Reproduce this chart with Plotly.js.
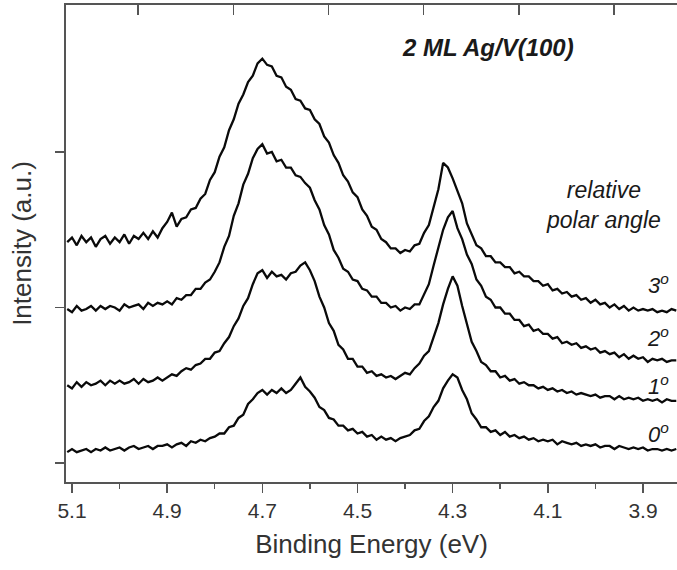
<!DOCTYPE html>
<html>
<head>
<meta charset="utf-8">
<script src="https://cdn.plot.ly/plotly-3.0.1.min.js"></script>
<style>html,body{margin:0;padding:0;background:#fff;}#chart{width:677px;height:570px;}</style>
</head>
<body>
<div id="chart"></div>
<script>
// Binding energy (eV)
var energy = [
5.11,5.10,5.09,5.08,5.07,5.06,5.05,5.04,5.03,5.02,
5.01,5.00,4.99,4.98,4.97,4.96,4.95,4.94,4.93,4.92,
4.91,4.90,4.89,4.88,4.87,4.86,4.85,4.84,4.83,4.82,
4.81,4.80,4.79,4.78,4.77,4.76,4.75,4.74,4.73,4.72,
4.71,4.70,4.69,4.68,4.67,4.66,4.65,4.64,4.63,4.62,
4.61,4.60,4.59,4.58,4.57,4.56,4.55,4.54,4.53,4.52,
4.51,4.50,4.49,4.48,4.47,4.46,4.45,4.44,4.43,4.42,
4.41,4.40,4.39,4.38,4.37,4.36,4.35,4.34,4.33,4.32,
4.31,4.30,4.29,4.28,4.27,4.26,4.25,4.24,4.23,4.22,
4.21,4.20,4.19,4.18,4.17,4.16,4.15,4.14,4.13,4.12,
4.11,4.10,4.09,4.08,4.07,4.06,4.05,4.04,4.03,4.02,
4.01,4.00,3.99,3.98,3.97,3.96,3.95,3.94,3.93,3.92,
3.91,3.90,3.89,3.88,3.87,3.86,3.85,3.84,3.83];

// Intensity (a.u., offset spectra) for each relative polar angle
var angle0 = [
0.07,0.09,0.07,0.08,0.09,0.07,0.09,0.08,0.10,0.08,
0.09,0.10,0.08,0.10,0.11,0.09,0.10,0.11,0.09,0.11,
0.11,0.12,0.10,0.12,0.13,0.11,0.14,0.13,0.15,0.14,
0.16,0.17,0.19,0.19,0.23,0.24,0.29,0.31,0.38,0.41,
0.45,0.47,0.44,0.47,0.45,0.48,0.45,0.47,0.51,0.55,
0.49,0.46,0.42,0.36,0.34,0.29,0.28,0.24,0.24,0.21,
0.22,0.19,0.20,0.17,0.18,0.15,0.17,0.15,0.16,0.14,
0.16,0.17,0.18,0.21,0.22,0.27,0.30,0.36,0.40,0.48,
0.53,0.57,0.55,0.47,0.41,0.32,0.28,0.23,0.23,0.20,
0.21,0.18,0.20,0.17,0.18,0.16,0.17,0.15,0.16,0.14,
0.15,0.14,0.15,0.12,0.14,0.13,0.12,0.13,0.11,0.12,
0.11,0.12,0.10,0.11,0.11,0.09,0.11,0.10,0.09,0.10,
0.09,0.10,0.08,0.09,0.09,0.08,0.09,0.08,0.09];

var angle1 = [
0.50,0.48,0.52,0.49,0.52,0.50,0.51,0.53,0.50,0.53,
0.51,0.53,0.51,0.52,0.54,0.51,0.54,0.52,0.53,0.55,
0.53,0.55,0.57,0.56,0.59,0.61,0.60,0.63,0.64,0.67,
0.67,0.71,0.72,0.77,0.81,0.88,0.93,1.01,1.06,1.15,
1.22,1.24,1.19,1.23,1.20,1.21,1.18,1.22,1.23,1.27,
1.29,1.24,1.17,1.07,1.00,0.90,0.85,0.76,0.73,0.67,
0.67,0.62,0.62,0.58,0.59,0.56,0.57,0.55,0.56,0.54,
0.56,0.58,0.57,0.61,0.64,0.69,0.72,0.81,0.90,1.02,
1.12,1.20,1.14,1.01,0.89,0.78,0.72,0.65,0.63,0.59,
0.59,0.55,0.56,0.53,0.54,0.51,0.52,0.50,0.50,0.48,
0.49,0.47,0.48,0.46,0.47,0.45,0.46,0.44,0.45,0.44,
0.43,0.44,0.42,0.43,0.43,0.41,0.43,0.41,0.42,0.41,
0.42,0.40,0.41,0.40,0.41,0.39,0.41,0.40,0.40];

var angle2 = [
0.99,0.97,1.01,0.98,0.99,1.01,0.98,1.01,0.99,1.01,
1.00,0.98,1.02,1.00,1.01,1.02,0.99,1.03,1.01,1.03,
1.02,1.04,1.02,1.06,1.05,1.08,1.08,1.12,1.12,1.16,
1.18,1.23,1.29,1.39,1.46,1.59,1.67,1.79,1.86,1.96,
2.02,2.05,1.99,2.00,1.94,1.95,1.90,1.90,1.85,1.84,
1.80,1.77,1.69,1.63,1.53,1.47,1.37,1.32,1.25,1.23,
1.18,1.17,1.12,1.11,1.07,1.07,1.03,1.03,1.00,1.01,
0.98,1.00,0.99,1.02,1.02,1.09,1.15,1.27,1.38,1.50,
1.58,1.62,1.51,1.44,1.34,1.28,1.18,1.14,1.07,1.05,
1.00,1.00,0.96,0.96,0.92,0.92,0.88,0.89,0.85,0.86,
0.83,0.83,0.80,0.81,0.77,0.78,0.76,0.77,0.74,0.75,
0.73,0.74,0.71,0.72,0.70,0.71,0.68,0.70,0.67,0.69,
0.67,0.68,0.65,0.67,0.66,0.67,0.65,0.66,0.66];

var angle3 = [
1.42,1.45,1.40,1.46,1.42,1.45,1.39,1.44,1.46,1.41,
1.45,1.42,1.47,1.41,1.46,1.44,1.48,1.44,1.49,1.45,
1.51,1.55,1.61,1.52,1.57,1.58,1.63,1.64,1.70,1.73,
1.82,1.87,1.97,2.03,2.14,2.21,2.31,2.37,2.45,2.49,
2.57,2.60,2.56,2.55,2.49,2.48,2.42,2.40,2.34,2.33,
2.28,2.27,2.21,2.18,2.10,2.06,1.98,1.93,1.85,1.81,
1.74,1.71,1.63,1.59,1.52,1.50,1.44,1.42,1.38,1.38,
1.35,1.37,1.36,1.40,1.41,1.48,1.53,1.64,1.76,1.93,
1.90,1.83,1.75,1.67,1.54,1.47,1.40,1.38,1.33,1.33,
1.29,1.29,1.26,1.26,1.22,1.23,1.20,1.20,1.17,1.17,
1.14,1.15,1.11,1.12,1.09,1.10,1.07,1.08,1.05,1.06,
1.03,1.05,1.02,1.03,1.00,1.02,0.99,1.01,0.98,1.00,
0.98,0.99,0.98,0.99,0.97,0.98,0.97,0.99,0.98];

var seriesNames = ['0', '1', '2', '3'];
var seriesData = [angle0, angle1, angle2, angle3];
var panelLabel = '2 ML Ag/V(100)';
var legendTitle = 'relative<br>polar angle';
var xTitle = 'Binding Energy (eV)';
var yTitle = 'Intensity (a.u.)';

var FONT = '"Liberation Sans", Arial, sans-serif';
var XR = [5.1126, 3.8285];

var traces = seriesData.map(function (v, i) {
  return {x: energy, y: v, type: 'scatter', mode: 'lines', name: seriesNames[i] + '\u00ba',
          line: {color: '#0a0a0a', width: 2.3}, showlegend: false, hoverinfo: 'skip'};
});
traces.push({x: [XR[0]], y: [0], xaxis: 'x2', yaxis: 'y', mode: 'markers',
             marker: {opacity: 0}, showlegend: false, hoverinfo: 'skip'});

// label anchor positions (data coords)
var labelY = [0.19, 0.50, 0.81, 1.15];
var annotations = [
  {x: 4.225, y: 2.67, xref: 'x', yref: 'y', text: '<b><i>' + panelLabel + '</i></b>',
   showarrow: false, font: {family: FONT, size: 24, color: '#1a1a1a'}},
  {x: 3.982, y: 1.66, xref: 'x', yref: 'y', text: '<i>' + legendTitle + '</i>',
   showarrow: false, font: {family: FONT, size: 23, color: '#1a1a1a'}}
];
seriesNames.forEach(function (n, i) {
  annotations.push({x: 3.868, y: labelY[i], xref: 'x', yref: 'y',
    text: '<i>' + n + '<sup>o</sup></i>', showarrow: false,
    font: {family: FONT, size: 22, color: '#1a1a1a'}});
});

var layout = {
  width: 677, height: 570,
  margin: {l: 66, r: 0, t: 5, b: 88},
  paper_bgcolor: '#fff', plot_bgcolor: '#fff',
  font: {family: FONT, color: '#333'},
  xaxis: {
    range: XR, tick0: 5.1, dtick: 0.2, tickformat: '.1f',
    ticks: 'outside', ticklen: 9, tickwidth: 1.5, tickcolor: '#555',
    minor: {ticks: 'outside', ticklen: 5, tickwidth: 1.5, tickcolor: '#555', tick0: 5.0, dtick: 0.2},
    showline: true, linewidth: 2, linecolor: '#555', showgrid: false, zeroline: false,
    tickfont: {family: FONT, size: 21, color: '#333'},
    title: {text: xTitle, font: {family: FONT, size: 26, color: '#333'}, standoff: 14}
  },
  xaxis2: {
    range: XR, overlaying: 'x', side: 'top', anchor: 'y', tick0: 4.961, dtick: 0.2,
    ticks: 'inside', ticklen: 10, tickwidth: 1.5, tickcolor: '#555',
    showticklabels: false, showline: true, linewidth: 2, linecolor: '#555',
    showgrid: false, zeroline: false
  },
  yaxis: {
    range: [-0.122, 2.945], tickvals: [0, 1, 2], showticklabels: false,
    ticks: 'outside', ticklen: 9, tickwidth: 1.5, tickcolor: '#555',
    showline: true, linewidth: 2, linecolor: '#555', showgrid: false, zeroline: false,
    title: {text: yTitle, font: {family: FONT, size: 26, color: '#333'}, standoff: 16}
  },
  annotations: annotations,
  showlegend: false
};

Plotly.newPlot('chart', traces, layout, {displayModeBar: false, staticPlot: true});
</script>
</body>
</html>
